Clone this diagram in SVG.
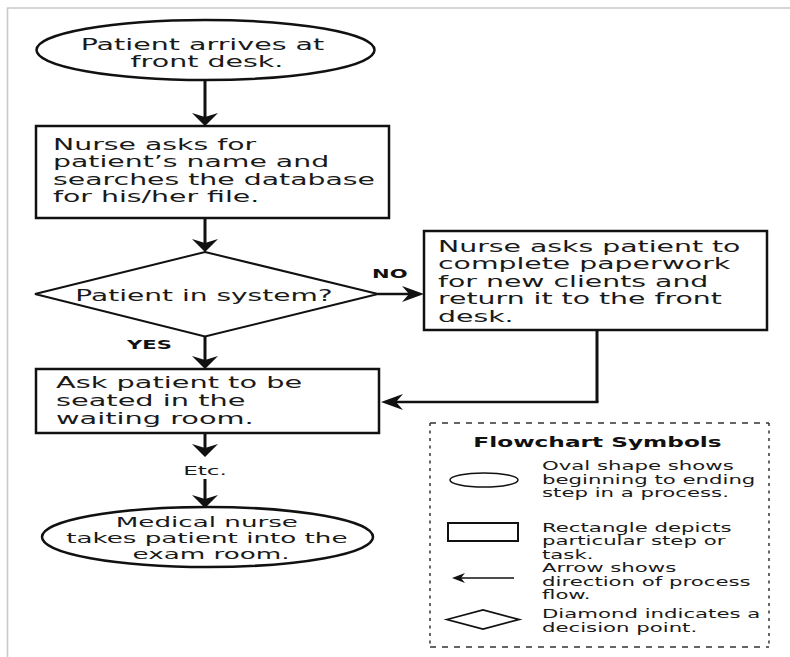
<svg xmlns="http://www.w3.org/2000/svg" width="790" height="657" viewBox="0 0 790 657">
  <style>
    .frame { stroke: #c9c9c9; stroke-width: 1.6; fill: none; }
    .shape { fill: #fff; stroke: #111; stroke-width: 2.5; }
    .diam { fill: #fff; stroke: #111; stroke-width: 2; }
    .vline { stroke: #111; stroke-width: 3; fill: none; }
    .hline { stroke: #111; stroke-width: 2.3; fill: none; }
    .txt { font-family: "DejaVu Sans", Verdana, sans-serif; font-size: 15px; fill: #1a1a1a; }
    .small { font-size: 13px; }
    .leg-t { font-size: 12.5px; }
    .lbl { font-family: "DejaVu Sans", Verdana, sans-serif; font-size: 13px; font-weight: bold; fill: #111; }
    .mid { text-anchor: middle; }
    .dashH { stroke: #333; stroke-width: 1.5; stroke-dasharray: 6 6; fill: none; }
    .dashV { stroke: #333; stroke-width: 1.5; stroke-dasharray: 3 4.5; fill: none; }
    .leg { fill: #fff; stroke: #111; stroke-width: 1.8; }
  </style>
  <defs>
    <!-- arrowhead for vertical connectors (wide, short) -->
    <marker id="ahV" viewBox="-14 -14 15 28" refX="-6" refY="0" markerWidth="15" markerHeight="28" orient="auto" markerUnits="userSpaceOnUse">
      <path d="M0,0 L-13,-13 L-9,0 L-13,13 Z" fill="#111"/>
    </marker>
    <!-- arrowhead for horizontal connectors (long, narrow) -->
    <marker id="ahH" viewBox="-23 -9 24 18" refX="-8" refY="0" markerWidth="24" markerHeight="18" orient="auto" markerUnits="userSpaceOnUse">
      <path d="M0,0 L-22,-8 L-15,0 L-22,8 Z" fill="#111"/>
    </marker>
    <!-- small arrowhead used in the legend -->
    <marker id="ahS" viewBox="-14 -6 15 12" refX="-5" refY="0" markerWidth="15" markerHeight="12" orient="auto" markerUnits="userSpaceOnUse">
      <path d="M0,0 L-13,-5 L-9,0 L-13,5 Z" fill="#111"/>
    </marker>
  </defs>

  <rect width="790" height="657" fill="#fff"/>
  <!-- page frame -->
  <path class="frame" d="M7.5,657 V8 H790"/>

  <!-- connectors -->
  <g id="connectors">
    <line class="vline" x1="205" y1="80" x2="205" y2="120" marker-end="url(#ahV)"/>
    <line class="vline" x1="205" y1="218" x2="205" y2="246" marker-end="url(#ahV)"/>
    <line class="hline" x1="378" y1="294" x2="416" y2="294" marker-end="url(#ahH)"/>
    <polyline class="vline" points="597,330 597,402" />
    <line class="hline" x1="598.5" y1="402" x2="389" y2="402" marker-end="url(#ahH)"/>
    <line class="vline" x1="205" y1="336" x2="205" y2="363" marker-end="url(#ahV)"/>
    <line class="vline" x1="205" y1="433" x2="205" y2="451" marker-end="url(#ahV)"/>
    <line class="vline" x1="205" y1="479" x2="205" y2="502" marker-end="url(#ahV)"/>
    <text class="lbl" transform="translate(372,278) scale(1.62,1)">NO</text>
    <text class="lbl" transform="translate(127,349) scale(1.62,1)">YES</text>
    <text class="txt small mid" transform="translate(205,475) scale(1.78,1)">Etc.</text>
  </g>

  <!-- start -->
  <g id="start">
    <ellipse class="shape" cx="205.5" cy="50" rx="169" ry="30"/>
    <text class="txt mid" transform="translate(207,50) scale(1.9,1)">
      <tspan x="0" y="0">Patient arrives at</tspan>
      <tspan x="0" y="17">front desk.</tspan>
    </text>
  </g>

  <!-- search -->
  <g id="search">
    <rect class="shape" x="36" y="126" width="353" height="92"/>
    <text class="txt" transform="translate(53,150) scale(1.89,1)">
      <tspan x="0" y="0">Nurse asks for</tspan>
      <tspan x="0" y="17.5">patient’s name and</tspan>
      <tspan x="0" y="35">searches the database</tspan>
      <tspan x="0" y="52.5">for his/her file.</tspan>
    </text>
  </g>

  <!-- decision -->
  <g id="decision">
    <polygon class="diam" points="205,252 378,294 205,336.5 35,294"/>
    <text class="txt mid" transform="translate(204,301) scale(1.87,1)">Patient in system?</text>
  </g>

  <!-- paperwork -->
  <g id="paperwork">
    <rect class="shape" x="424" y="231" width="343" height="99"/>
    <text class="txt" transform="translate(438,252) scale(1.89,1)">
      <tspan x="0" y="0">Nurse asks patient to</tspan>
      <tspan x="0" y="17.5">complete paperwork</tspan>
      <tspan x="0" y="35">for new clients and</tspan>
      <tspan x="0" y="52.5">return it to the front</tspan>
      <tspan x="0" y="70">desk.</tspan>
    </text>
  </g>

  <!-- waiting -->
  <g id="waiting">
    <rect class="shape" x="36" y="369" width="343" height="64"/>
    <text class="txt" transform="translate(56,388) scale(1.92,1)">
      <tspan x="0" y="0">Ask patient to be</tspan>
      <tspan x="0" y="18">seated in the</tspan>
      <tspan x="0" y="36">waiting room.</tspan>
    </text>
  </g>

  <!-- end -->
  <g id="end">
    <ellipse class="shape" cx="207.5" cy="537" rx="165.5" ry="30"/>
    <text class="txt mid" transform="translate(211,527) scale(1.87,1)" style="font-size:14px">
      <tspan x="0" y="0">Medical nurse</tspan>
      <tspan x="0" y="16">takes patient into the</tspan>
      <tspan x="0" y="32">exam room.</tspan>
    </text>
  </g>

  <!-- legend -->
  <g id="legend">
    <path class="dashH" d="M430,423 H769 M430,647 H769"/>
    <path class="dashV" d="M430,423 V647 M769,423 V647"/>
    <text class="lbl mid" transform="translate(597.5,447) scale(1.66,1)" style="font-size:14px">Flowchart Symbols</text>

    <ellipse class="leg" cx="484" cy="480" rx="34" ry="7" style="stroke-width:1.5"/>
    <text class="txt leg-t" transform="translate(542,470) scale(1.7,1)">
      <tspan x="0" y="0">Oval shape shows</tspan>
      <tspan x="0" y="14">beginning to ending</tspan>
      <tspan x="0" y="27.5">step in a process.</tspan>
    </text>

    <rect class="leg" x="448" y="523" width="70" height="18" style="stroke-width:2"/>
    <text class="txt leg-t" transform="translate(542,531.5) scale(1.7,1)">
      <tspan x="0" y="0">Rectangle depicts</tspan>
      <tspan x="0" y="13.7">particular step or</tspan>
      <tspan x="0" y="27.4">task.</tspan>
    </text>

    <line x1="514" y1="578" x2="457" y2="578" stroke="#111" stroke-width="1.3" marker-end="url(#ahS)"/>
    <text class="txt leg-t" transform="translate(542,572.3) scale(1.7,1)">
      <tspan x="0" y="0">Arrow shows</tspan>
      <tspan x="0" y="13.5">direction of process</tspan>
      <tspan x="0" y="27">flow.</tspan>
    </text>

    <polygon class="leg" points="447,619.5 483,610 519,619.5 483,629" style="stroke-width:1.8"/>
    <text class="txt leg-t" transform="translate(542,618.3) scale(1.7,1)">
      <tspan x="0" y="0">Diamond indicates a</tspan>
      <tspan x="0" y="13.4">decision point.</tspan>
    </text>
  </g>
</svg>
